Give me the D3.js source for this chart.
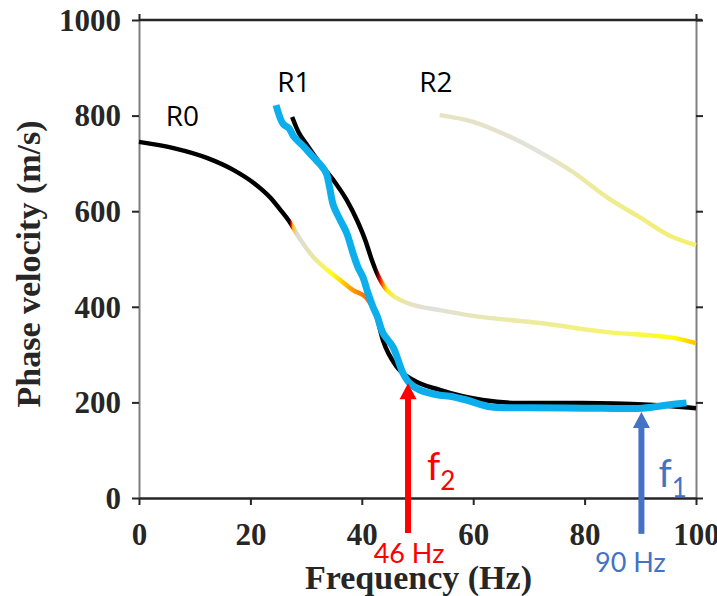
<!DOCTYPE html>
<html>
<head>
<meta charset="utf-8">
<script src="https://cdn.jsdelivr.net/npm/d3@7"></script>
<style>
  html, body { margin: 0; padding: 0; background: #fff; }
  svg { display: block; }
  .tick-label { font-family: "Liberation Serif", "Times New Roman", serif; font-weight: bold; font-size: 31px; fill: #262626; }
  .axis-title { font-family: "Liberation Serif", "Times New Roman", serif; font-weight: bold; font-size: 34px; fill: #262626; }
  .anno { font-family: Lato, "Open Sans", sans-serif; }
  .mode { font-family: "Open Sans", Lato, sans-serif; }
</style>
</head>
<body>
<svg id="chart" width="717" height="596"></svg>
<script>
// ---------------- data ----------------
const xTicks = [0, 20, 40, 60, 80, 100];
const yTicks = [0, 200, 400, 600, 800, 1000];

// R0 mode (theoretical dispersion curve)
const r0Freq = [0, 6.2, 12.3, 17, 20.6, 23.6, 25.3, 27.2, 29, 31.3, 33.8, 36.1, 38.4, 40.9, 42.5, 43.8, 46.3, 49.2, 54, 61.7, 67.8, 79.6, 91.6, 100];
const r0Vel  = [745, 732, 711, 686, 659, 628, 604, 575, 540, 504, 477, 456, 435, 418, 385, 330, 274, 247, 226, 205, 199, 199, 195, 188];

// R1 mode
const r1Freq = [27.5, 28.6, 30.2, 32.5, 34.9, 37.3, 39.1, 40.6, 41.8, 42.7, 43.6, 44.5, 46.3, 49.2, 54, 60, 72, 84, 96, 100];
const r1Vel  = [797, 766, 738, 700, 665, 623, 582, 540, 498, 471, 450, 435, 418, 404, 393, 381, 366, 347, 335, 324];

// R2 mode
const r2Freq = [54, 60, 66, 71.9, 77.9, 83.9, 89.8, 95.8, 100];
const r2Vel  = [801, 787, 759, 724, 682, 630, 588, 546, 529];

// measured (experimental) dispersion curve
const obsFreq = [24.6, 25.9, 26.9, 27.8, 29.5, 31.3, 32.6, 33.6, 34.2, 34.9, 36.1, 37.3, 38.4, 39.3, 40.2, 41.1, 42.0, 42.8, 43.8, 45.6, 46.5, 47.4, 48.6, 50.4, 54, 55.8, 58.8, 63, 70, 80, 90.3, 95.2, 98.3];
const obsVel  = [822, 782, 774, 756, 736, 713, 697, 680, 651, 612, 582, 554, 513, 483, 462, 429, 400, 379, 345, 316, 289, 261, 240, 226, 215, 213, 205, 191, 189, 188, 188, 195, 199];

// mode labels
const modeNames = ["R0", "R1", "R2"];
const modeLabelFreq = [4.8, 24.8, 50.3];
const modeLabelVel  = [778, 849, 849];

// arrows (cut-off frequencies)
const arrowNames = ["f", "f"];
const arrowSubs  = ["2", "1"];
const arrowHz    = ["46 Hz", "90 Hz"];
const arrowFreq  = [48.3, 90.2];
const arrowTipVel  = [240, 180];
const arrowBaseVel = [-73, -75];

// ---------------- styles ----------------
const arrowColors = ["#ff0000", "#4472c4"];
// colour stops along frequency for each mode curve
const r0Stops = [[0,"#000"],[27.0,"#000"],[27.3,"#e00000"],[27.6,"#ffc000"],[28.3,"#dcdcd2"],[30,"#e2e0c4"],[32,"#eeea90"],[34.5,"#ffff20"],[36,"#ffe000"],[38,"#ffa000"],[40.5,"#ff7000"],[42,"#ff5000"],[42.8,"#000"],[100,"#000"]];
const r1Stops = [[27.5,"#000"],[42.5,"#000"],[43.0,"#a00000"],[43.4,"#ff2000"],[43.9,"#ff9000"],[44.5,"#ffee00"],[46,"#f0ec80"],[49,"#e4e2c8"],[53,"#e0e0dc"],[60,"#e8e6b8"],[75,"#f0ee90"],[88,"#f8f660"],[96,"#ffff00"],[100,"#ffc000"]];
const r2Stops = [[54,"#e6e4c0"],[65,"#e4e2cc"],[72,"#e2e2de"],[80,"#eceaa0"],[90,"#f0ee80"],[100,"#f4f070"]];

// ---------------- chart ----------------
const svg = d3.select("#chart");
const x = d3.scaleLinear().domain([0, 100]).range([139, 696]);
const y = d3.scaleLinear().domain([0, 1000]).range([498, 20]);

const defs = svg.append("defs");
function makeGrad(id, freqs, stops) {
  const f0 = d3.min(freqs), f1 = d3.max(freqs);
  const g = defs.append("linearGradient").attr("id", id)
    .attr("gradientUnits", "userSpaceOnUse")
    .attr("x1", x(f0)).attr("x2", x(f1)).attr("y1", 0).attr("y2", 0);
  stops.forEach(s => {
    g.append("stop").attr("offset", Math.max(0, Math.min(1, (s[0] - f0) / (f1 - f0))))
      .attr("stop-color", s[1]);
  });
  return "url(#" + id + ")";
}

// axes
const axisG = svg.append("g");
const leftAx = axisG.append("g").attr("transform", `translate(${x(0)},0)`)
  .call(d3.axisLeft(y).tickValues(yTicks).tickSize(7).tickSizeOuter(0).tickFormat(d3.format("d")));
leftAx.select(".domain").attr("stroke", "#808080").attr("stroke-width", 2);
leftAx.selectAll(".tick line").attr("stroke", "#262626").attr("stroke-width", 2);
leftAx.selectAll(".tick text").attr("class", "tick-label").attr("x", -18).attr("dy", "0.33em");

const rightAx = axisG.append("g").attr("transform", `translate(${x(100)},0)`)
  .call(d3.axisRight(y).tickValues(yTicks).tickSize(7).tickSizeOuter(0).tickFormat(""));
rightAx.select(".domain").attr("stroke", "#808080").attr("stroke-width", 2);
rightAx.selectAll(".tick line").attr("stroke", "#262626").attr("stroke-width", 2);

const bottomAx = axisG.append("g").attr("transform", `translate(0,${y(0)})`)
  .call(d3.axisBottom(x).tickValues(xTicks).tickSize(7).tickSizeOuter(0).tickFormat(d3.format("d")));
bottomAx.select(".domain").attr("stroke", "#262626").attr("stroke-width", 2.5);
bottomAx.selectAll(".tick line").attr("stroke", "#262626").attr("stroke-width", 2);
bottomAx.selectAll(".tick text").attr("class", "tick-label").attr("y", 47).attr("dy", 0);

const topAx = axisG.append("g").attr("transform", `translate(0,${y(1000)})`)
  .call(d3.axisTop(x).tickValues([0, 100]).tickSize(6).tickSizeOuter(0).tickFormat(""));
topAx.select(".domain").attr("stroke", "#262626").attr("stroke-width", 2.5)
  .attr("d", `M${x(0)},0H${x(100) + 6}`);
topAx.selectAll(".tick line").attr("stroke", "#262626").attr("stroke-width", 2);

axisG.selectAll("path.domain").attr("fill", "none");

// axis titles
svg.append("text").attr("class", "axis-title")
  .attr("x", (x(0) + x(100)) / 2 + 1).attr("y", 589).attr("text-anchor", "middle")
  .text("Frequency (Hz)");
svg.append("text").attr("class", "axis-title")
  .attr("transform", `translate(40,${(y(0) + y(1000)) / 2 + 5}) rotate(-90)`)
  .attr("text-anchor", "middle")
  .text("Phase velocity (m/s)");

// curves
const line = d3.line().x(d => x(d[0])).y(d => y(d[1])).curve(d3.curveMonotoneX);
const zip = (a, b) => a.map((v, i) => [v, b[i]]);

svg.append("path").datum(zip(r2Freq, r2Vel)).attr("d", line)
  .attr("fill", "none").attr("stroke", makeGrad("g2", r2Freq, r2Stops)).attr("stroke-width", 4.5);
svg.append("path").datum(zip(r1Freq, r1Vel)).attr("d", line)
  .attr("fill", "none").attr("stroke", makeGrad("g1", r1Freq, r1Stops)).attr("stroke-width", 4.5);
svg.append("path").datum(zip(r0Freq, r0Vel)).attr("d", line)
  .attr("fill", "none").attr("stroke", makeGrad("g0", r0Freq, r0Stops)).attr("stroke-width", 4.5);

const obsLine = d3.line().x(d => x(d[0])).y(d => y(d[1])).curve(d3.curveCatmullRom.alpha(0.5));
svg.append("path").datum(zip(obsFreq, obsVel)).attr("d", obsLine)
  .attr("fill", "none").attr("stroke", "#0cafec").attr("stroke-width", 7)
  .attr("stroke-linejoin", "round").attr("stroke-linecap", "butt");

// mode labels
modeNames.forEach((n, i) => {
  svg.append("text").attr("class", "mode")
    .attr("x", x(modeLabelFreq[i])).attr("y", y(modeLabelVel[i]))
    .attr("font-size", 28).attr("fill", "#000").text(n);
});

// arrows
arrowFreq.forEach((f, i) => {
  const ax = x(f), tip = y(arrowTipVel[i]), base = y(arrowBaseVel[i]);
  const headL = 16, headW = 8.5;
  svg.append("line").attr("x1", ax).attr("x2", ax).attr("y1", base).attr("y2", tip + headL - 1)
    .attr("stroke", arrowColors[i]).attr("stroke-width", 6);
  svg.append("path").attr("d", `M${ax},${tip}L${ax + headW},${tip + headL}L${ax - headW},${tip + headL}Z`)
    .attr("fill", arrowColors[i]);
});

// f labels
const fDx = [19, 17];
const fBase = [480, 487];
arrowNames.forEach((n, i) => {
  const t = svg.append("text").attr("class", "anno").attr("fill", arrowColors[i])
    .attr("x", x(arrowFreq[i]) + fDx[i]).attr("y", fBase[i])
    .attr("font-size", 38);
  t.append("tspan").text(n);
  t.append("tspan").attr("font-size", 26).attr("dy", 10).text(arrowSubs[i]);
});

// Hz labels
const hzX = [1, -11];
const hzY = [563, 572];
arrowHz.forEach((s, i) => {
  svg.append("text").attr("class", "anno").attr("fill", arrowColors[i])
    .attr("x", x(arrowFreq[i]) + hzX[i]).attr("y", hzY[i])
    .attr("text-anchor", "middle").attr("font-size", 27).text(s);
});
</script>
</body>
</html>
